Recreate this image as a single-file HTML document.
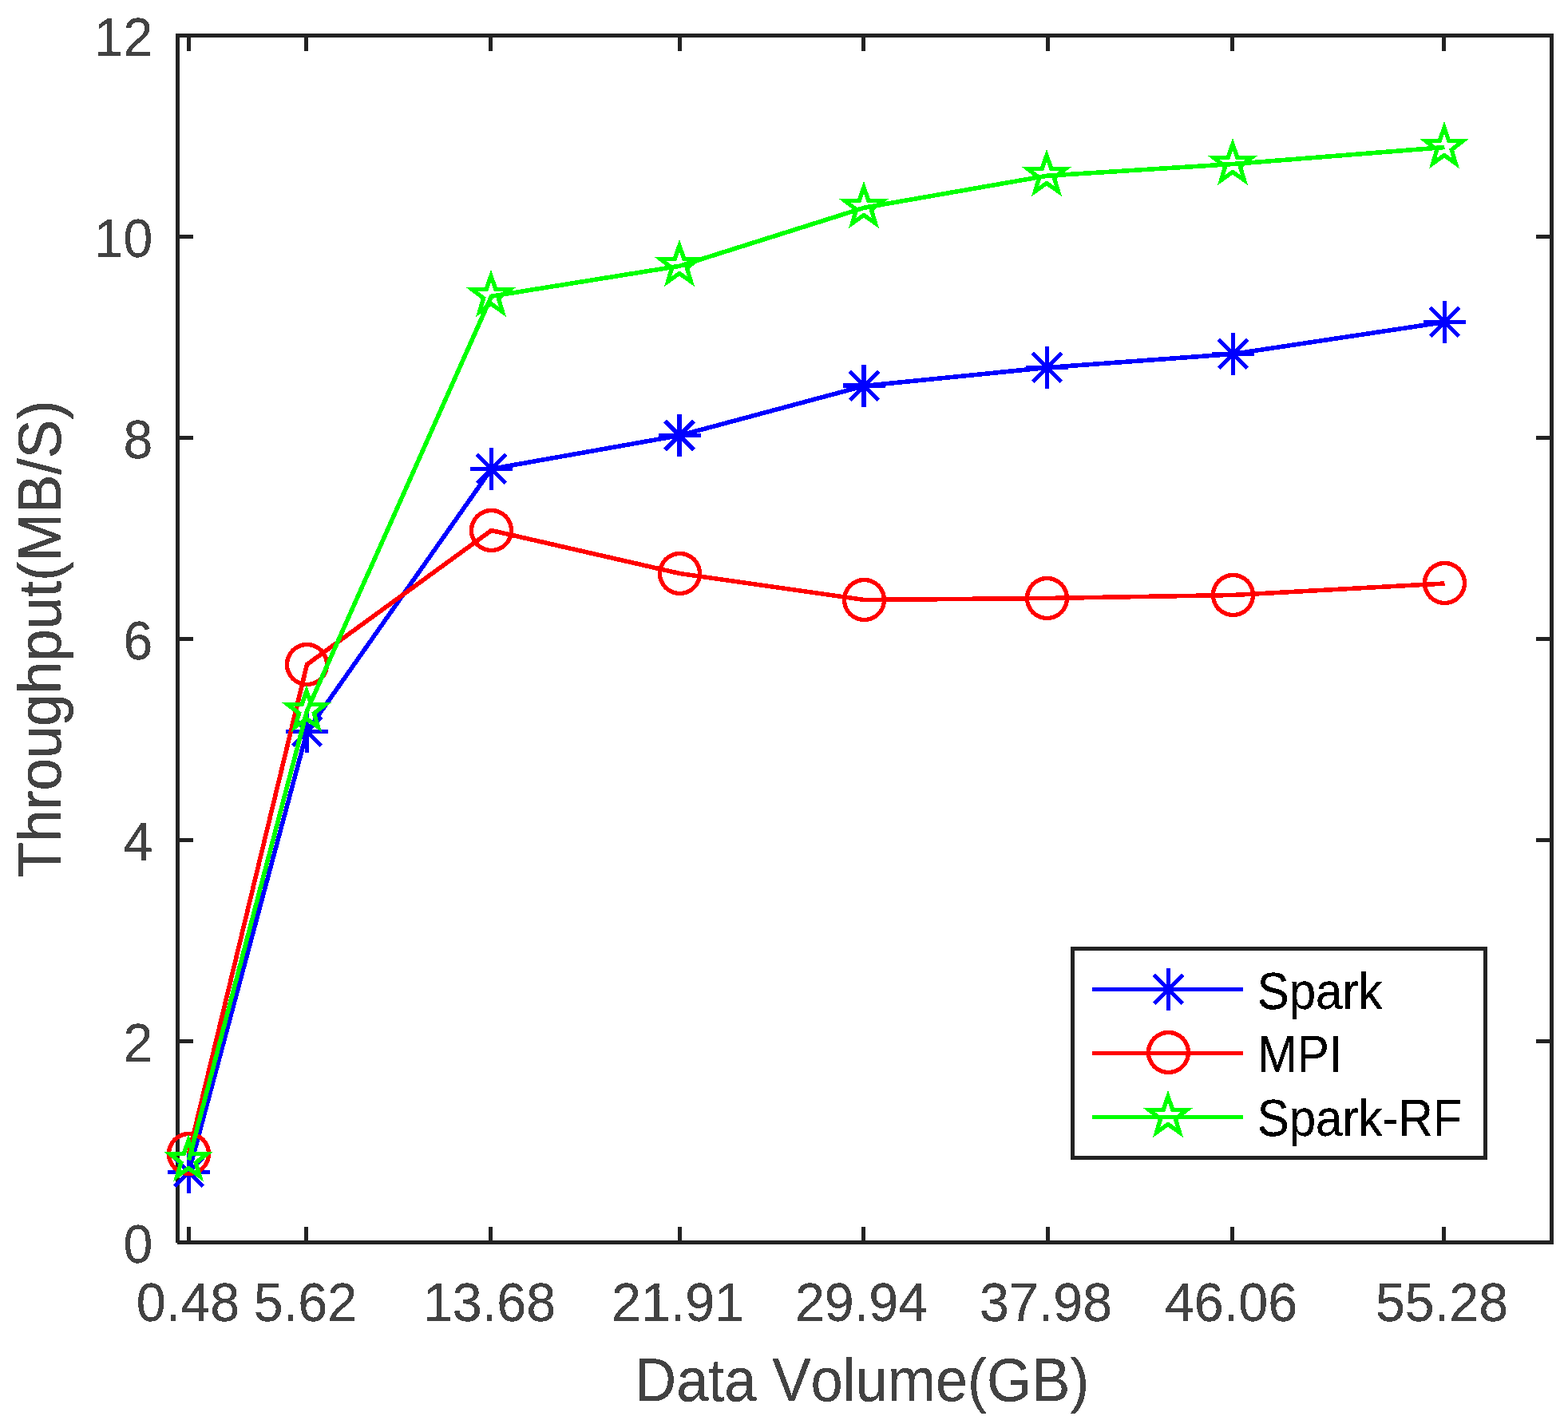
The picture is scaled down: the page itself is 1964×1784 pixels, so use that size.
<!DOCTYPE html>
<html lang="en"><head><meta charset="utf-8"><title>Throughput vs Data Volume</title>
<style>html,body{margin:0;padding:0;background:#fff;}svg{display:block;}text{font-family:"Liberation Sans", "DejaVu Sans", sans-serif;font-kerning:none;}</style></head><body>
<svg width="1964" height="1784" viewBox="0 0 1964 1784">
<defs><filter id="crisp" filterUnits="userSpaceOnUse" x="0" y="0" width="1964" height="1784" color-interpolation-filters="sRGB"><feComponentTransfer><feFuncA type="discrete" tableValues="0 1 1"/></feComponentTransfer></filter></defs>
<rect x="0" y="0" width="1964" height="1784" fill="#ffffff"/>
<g shape-rendering="crispEdges">
<rect x="222" y="1554" width="1724" height="5" fill="#222222"/>
<rect x="220" y="42" width="1726" height="5" fill="#222222"/>
<rect x="220" y="42" width="5" height="1515" fill="#222222"/>
<rect x="1941" y="42" width="5" height="1517" fill="#222222"/>
<rect x="234" y="1537" width="5" height="17" fill="#222222"/>
<rect x="234" y="47" width="5" height="17" fill="#222222"/>
<rect x="381" y="1537" width="5" height="17" fill="#222222"/>
<rect x="381" y="47" width="5" height="17" fill="#222222"/>
<rect x="612" y="1537" width="5" height="17" fill="#222222"/>
<rect x="612" y="47" width="5" height="17" fill="#222222"/>
<rect x="849" y="1537" width="5" height="17" fill="#222222"/>
<rect x="849" y="47" width="5" height="17" fill="#222222"/>
<rect x="1079" y="1537" width="5" height="17" fill="#222222"/>
<rect x="1079" y="47" width="5" height="17" fill="#222222"/>
<rect x="1310" y="1537" width="5" height="17" fill="#222222"/>
<rect x="1310" y="47" width="5" height="17" fill="#222222"/>
<rect x="1541" y="1537" width="5" height="17" fill="#222222"/>
<rect x="1541" y="47" width="5" height="17" fill="#222222"/>
<rect x="1806" y="1537" width="5" height="17" fill="#222222"/>
<rect x="1806" y="47" width="5" height="17" fill="#222222"/>
<rect x="225" y="1302" width="17" height="5" fill="#222222"/>
<rect x="1924" y="1302" width="17" height="5" fill="#222222"/>
<rect x="225" y="1050" width="17" height="5" fill="#222222"/>
<rect x="1924" y="1050" width="17" height="5" fill="#222222"/>
<rect x="225" y="798" width="17" height="5" fill="#222222"/>
<rect x="1924" y="798" width="17" height="5" fill="#222222"/>
<rect x="225" y="546" width="17" height="5" fill="#222222"/>
<rect x="1924" y="546" width="17" height="5" fill="#222222"/>
<rect x="225" y="294" width="17" height="5" fill="#222222"/>
<rect x="1924" y="294" width="17" height="5" fill="#222222"/>
</g>
<g shape-rendering="crispEdges">
<polyline points="236.5,1468.5 384.5,916.5 615.5,587.5 851.5,545.5 1082.5,483.5 1311.5,460.5 1544.5,443.5 1809.5,403.5" fill="none" stroke="#0000ff" stroke-width="5.6" stroke-linejoin="miter"/>
<rect x="210" y="1466" width="53" height="5" fill="#0000ff"/><rect x="234" y="1442" width="5" height="53" fill="#0000ff"/><path d="M218.5 1450.5L254.5 1486.5M218.5 1486.5L254.5 1450.5" fill="none" stroke="#0000ff" stroke-width="5"/>
<rect x="358" y="914" width="53" height="5" fill="#0000ff"/><rect x="382" y="890" width="5" height="53" fill="#0000ff"/><path d="M366.5 898.5L402.5 934.5M366.5 934.5L402.5 898.5" fill="none" stroke="#0000ff" stroke-width="5"/>
<rect x="589" y="585" width="53" height="5" fill="#0000ff"/><rect x="613" y="561" width="5" height="53" fill="#0000ff"/><path d="M597.5 569.5L633.5 605.5M597.5 605.5L633.5 569.5" fill="none" stroke="#0000ff" stroke-width="5"/>
<rect x="825" y="543" width="53" height="5" fill="#0000ff"/><rect x="848" y="519" width="6" height="53" fill="#0000ff"/><path d="M833 527.5L869 563.5M833 563.5L869 527.5" fill="none" stroke="#0000ff" stroke-width="5"/>
<rect x="1056" y="480" width="53" height="6" fill="#0000ff"/><rect x="1079" y="457" width="6" height="53" fill="#0000ff"/><path d="M1064.5 465.5L1100.5 501.5M1064.5 501.5L1100.5 465.5" fill="none" stroke="#0000ff" stroke-width="5"/>
<rect x="1285" y="458" width="53" height="5" fill="#0000ff"/><rect x="1309" y="434" width="5" height="53" fill="#0000ff"/><path d="M1293.5 442.5L1329.5 478.5M1293.5 478.5L1329.5 442.5" fill="none" stroke="#0000ff" stroke-width="5"/>
<rect x="1518" y="441" width="53" height="5" fill="#0000ff"/><rect x="1542" y="417" width="5" height="53" fill="#0000ff"/><path d="M1526.5 425.5L1562.5 461.5M1526.5 461.5L1562.5 425.5" fill="none" stroke="#0000ff" stroke-width="5"/>
<rect x="1783" y="401" width="53" height="5" fill="#0000ff"/><rect x="1807" y="377" width="5" height="53" fill="#0000ff"/><path d="M1791.5 385.5L1827.5 421.5M1791.5 421.5L1827.5 385.5" fill="none" stroke="#0000ff" stroke-width="5"/>
<polyline points="236.5,1445.5 384.5,832.5 615.5,664.5 851.5,718.5 1082.5,751.5 1311.5,749.5 1544.5,745.5 1809.5,731" fill="none" stroke="#ff0000" stroke-width="5.6" stroke-linejoin="miter"/>
<circle cx="236.5" cy="1445.5" r="25" fill="none" stroke="#ff0000" stroke-width="5.3"/>
<circle cx="384.5" cy="832.5" r="25" fill="none" stroke="#ff0000" stroke-width="5.3"/>
<circle cx="615.5" cy="664.5" r="25" fill="none" stroke="#ff0000" stroke-width="5.3"/>
<circle cx="851.5" cy="718.5" r="25" fill="none" stroke="#ff0000" stroke-width="5.3"/>
<circle cx="1082.5" cy="751.5" r="25" fill="none" stroke="#ff0000" stroke-width="5.3"/>
<circle cx="1311.5" cy="749.5" r="25" fill="none" stroke="#ff0000" stroke-width="5.3"/>
<circle cx="1544.5" cy="745.5" r="25" fill="none" stroke="#ff0000" stroke-width="5.3"/>
<circle cx="1809.5" cy="730.5" r="25" fill="none" stroke="#ff0000" stroke-width="5.3"/>
<polyline points="236.5,1453.5 384.5,890.5 615.5,371.2 851.5,333.2 1082.5,260.2 1311.5,220.2 1544.5,205.5 1809.5,184.5" fill="none" stroke="#00ff00" stroke-width="5.6" stroke-linejoin="miter"/>
<polygon points="236.00,1428.50 241.70,1445.41 259.06,1445.77 245.23,1456.59 250.25,1473.73 236.00,1463.50 221.75,1473.73 226.77,1456.59 212.94,1445.77 230.30,1445.41" fill="none" stroke="#00ff00" stroke-width="5.3" stroke-linejoin="miter" stroke-miterlimit="10"/>
<polygon points="384.00,865.50 389.79,882.41 407.42,882.77 393.37,893.59 398.47,910.73 384.00,900.50 369.53,910.73 374.63,893.59 360.58,882.77 378.21,882.41" fill="none" stroke="#00ff00" stroke-width="5.3" stroke-linejoin="miter" stroke-miterlimit="10"/>
<polygon points="615.00,345.50 620.79,362.41 638.42,362.77 624.37,373.59 629.47,390.73 615.00,380.50 600.53,390.73 605.63,373.59 591.58,362.77 609.21,362.41" fill="none" stroke="#00ff00" stroke-width="5.3" stroke-linejoin="miter" stroke-miterlimit="10"/>
<polygon points="851.00,307.50 856.79,324.41 874.42,324.77 860.37,335.59 865.47,352.73 851.00,342.50 836.53,352.73 841.63,335.59 827.58,324.77 845.21,324.41" fill="none" stroke="#00ff00" stroke-width="5.3" stroke-linejoin="miter" stroke-miterlimit="10"/>
<polygon points="1082.00,234.50 1087.79,251.41 1105.42,251.77 1091.37,262.59 1096.47,279.73 1082.00,269.50 1067.53,279.73 1072.63,262.59 1058.58,251.77 1076.21,251.41" fill="none" stroke="#00ff00" stroke-width="5.3" stroke-linejoin="miter" stroke-miterlimit="10"/>
<polygon points="1311.00,194.50 1316.79,211.41 1334.42,211.77 1320.37,222.59 1325.47,239.73 1311.00,229.50 1296.53,239.73 1301.63,222.59 1287.58,211.77 1305.21,211.41" fill="none" stroke="#00ff00" stroke-width="5.3" stroke-linejoin="miter" stroke-miterlimit="10"/>
<polygon points="1544.00,180.50 1549.79,197.41 1567.42,197.77 1553.37,208.59 1558.47,225.73 1544.00,215.50 1529.53,225.73 1534.63,208.59 1520.58,197.77 1538.21,197.41" fill="none" stroke="#00ff00" stroke-width="5.3" stroke-linejoin="miter" stroke-miterlimit="10"/>
<polygon points="1809.00,159.50 1814.70,176.41 1832.06,176.77 1818.23,187.59 1823.25,204.73 1809.00,194.50 1794.75,204.73 1799.77,187.59 1785.94,176.77 1803.30,176.41" fill="none" stroke="#00ff00" stroke-width="5.3" stroke-linejoin="miter" stroke-miterlimit="10"/>
</g>
<g shape-rendering="crispEdges">
<rect x="1343.5" y="1188.5" width="517" height="262" fill="#ffffff" stroke="#222222" stroke-width="5"/>
<rect x="1368" y="1237" width="189" height="5" fill="#0000ff"/>
<rect x="1437" y="1237" width="53" height="5" fill="#0000ff"/><rect x="1461" y="1213" width="5" height="53" fill="#0000ff"/><path d="M1445.5 1221.5L1481.5 1257.5M1445.5 1257.5L1481.5 1221.5" fill="none" stroke="#0000ff" stroke-width="5"/>
<rect x="1368" y="1317" width="189" height="5" fill="#ff0000"/>
<circle cx="1463.5" cy="1318.5" r="25" fill="none" stroke="#ff0000" stroke-width="5.3"/>
<rect x="1368" y="1397" width="189" height="5" fill="#00ff00"/>
<polygon points="1463.00,1373.50 1468.79,1390.41 1486.42,1390.77 1472.37,1401.59 1477.47,1418.73 1463.00,1408.50 1448.53,1418.73 1453.63,1401.59 1439.58,1390.77 1457.21,1390.41" fill="none" stroke="#00ff00" stroke-width="5.3" stroke-linejoin="miter" stroke-miterlimit="10"/>
</g>
<g fill="#000000" filter="url(#crisp)">
<text transform="translate(1574.7 1263.5) scale(1 1.066)" font-size="60">Spark</text>
<text transform="translate(1574.7 1343.1) scale(1 1.066)" font-size="60">MPI</text>
<text transform="translate(1574.7 1423.5) scale(1 1.066)" font-size="60">Spark-RF</text>
</g>
<g fill="#424242" filter="url(#crisp)">
<text transform="translate(235.47 1655.2) scale(0.996 1.04)" font-size="66.67" text-anchor="middle">0.48</text>
<text transform="translate(382.47 1655.2) scale(0.996 1.04)" font-size="66.67" text-anchor="middle">5.62</text>
<text transform="translate(613 1655.2) scale(0.996 1.04)" font-size="66.67" text-anchor="middle">13.68</text>
<text transform="translate(849 1655.2) scale(0.996 1.04)" font-size="66.67" text-anchor="middle">21.91</text>
<text transform="translate(1079 1655.2) scale(0.996 1.04)" font-size="66.67" text-anchor="middle">29.94</text>
<text transform="translate(1310 1655.2) scale(0.996 1.04)" font-size="66.67" text-anchor="middle">37.98</text>
<text transform="translate(1542 1655.2) scale(0.996 1.04)" font-size="66.67" text-anchor="middle">46.06</text>
<text transform="translate(1806 1655.2) scale(0.996 1.04)" font-size="66.67" text-anchor="middle">55.28</text>
<text transform="translate(191.3 1582.2) scale(0.992 1.04)" font-size="66.67" text-anchor="end">0</text>
<text transform="translate(191.3 1330.2) scale(0.992 1.04)" font-size="66.67" text-anchor="end">2</text>
<text transform="translate(191.3 1078.2) scale(0.992 1.04)" font-size="66.67" text-anchor="end">4</text>
<text transform="translate(191.3 826.2) scale(0.992 1.04)" font-size="66.67" text-anchor="end">6</text>
<text transform="translate(191.3 574.2) scale(0.992 1.04)" font-size="66.67" text-anchor="end">8</text>
<text transform="translate(191.3 322.2) scale(0.992 1.04)" font-size="66.67" text-anchor="end">10</text>
<text transform="translate(191.3 70.2) scale(0.992 1.04)" font-size="66.67" text-anchor="end">12</text>
</g>
<g fill="#424242" filter="url(#crisp)">
<text transform="translate(795.1 1754.8) scale(0.9838 1.046)" font-size="73.33">Data Volume(GB)</text>
<text transform="translate(75.8 1099.5) rotate(-90) scale(0.9912 1.046)" font-size="73.33">Throughput(MB/S)</text>
</g>
</svg></body></html>
